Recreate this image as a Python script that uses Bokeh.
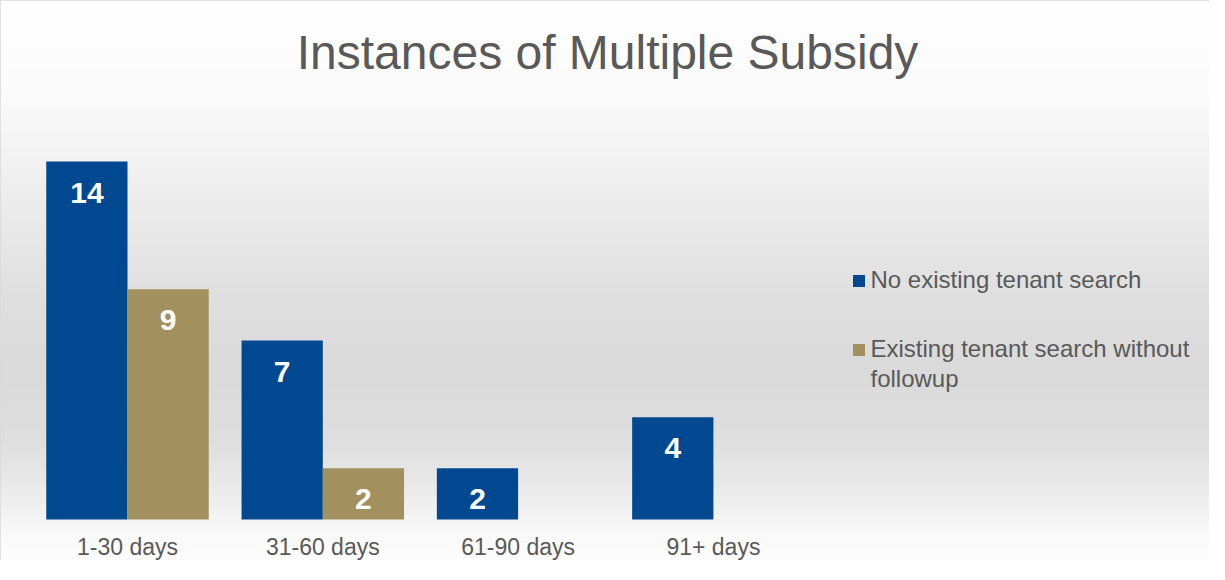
import numpy as np
from bokeh.plotting import figure
from bokeh.models import ColumnDataSource, Range1d, Label, Legend, LegendItem
from bokeh.transform import dodge
from bokeh.core.properties import value
from bokeh.embed import file_html
from bokeh.resources import INLINE

# ---- data ----
categories = ["1-30 days", "31-60 days", "61-90 days", "91+ days"]
series_names = ["No existing tenant search", "Existing tenant search without", "followup"]
no_search = [14, 7, 2, 4]
search_no_followup = [9, 2, None, None]
title_text = "Instances of Multiple Subsidy"

BLUE = "#00488F"
TAN = "#A2915F"
GRAY_TEXT = "#595959"
FONT = "Liberation Sans"

W, H = 1209, 560
PX_X = 195.3   # pixels per category
PX_Y = 25.57   # pixels per unit
x0_page = 135  # page x of first category centre
base_page = 527
x_start = (8 - x0_page) / PX_X
x_end = (8 + W - x0_page) / PX_X
y_end = (base_page - 8) / PX_Y
y_start = -(8 + H - base_page) / PX_Y

p = figure(width=W, height=H, output_backend="svg", toolbar_location=None,
           x_axis_type=None, y_axis_type=None,
           x_range=Range1d(x_start, x_end), y_range=Range1d(y_start, y_end),
           min_border=0)
p.outline_line_color = "#d9d9d9"
p.outline_line_width = 2
p.background_fill_color = "white"
p.border_fill_color = "white"

# ---- vertical background gradient ----
stops_y = [8, 100, 200, 300, 380, 450, 500, 540, 570]
stops_v = [255, 251, 238, 224, 218, 223, 236, 249, 254]
rows = np.arange(H)
page_y = 8 + H - 0.5 - rows
g = np.interp(page_y, stops_y, stops_v).astype(np.uint32)
img = np.empty((H, 2), dtype=np.uint32)
rgba = (255 << 24) | (g << 16) | (g << 8) | g
img[:, 0] = rgba
img[:, 1] = rgba
p.image_rgba(image=[img], x=x_start, y=y_start, dw=x_end - x_start, dh=y_end - y_start)

# ---- bars ----
idx = list(range(len(categories)))
src1 = ColumnDataSource(dict(x=idx, top=no_search, lbl=[str(v) for v in no_search]))
i2 = [i for i, v in zip(idx, search_no_followup) if v is not None]
v2 = [v for v in search_no_followup if v is not None]
src2 = ColumnDataSource(dict(x=i2, top=v2, lbl=[str(v) for v in v2]))

bw = 0.416
off = 0.208
r1 = p.vbar(x=dodge("x", -off, range=p.x_range), top="top", bottom=0, width=bw,
            source=src1, fill_color=BLUE, line_color=None)
r2 = p.vbar(x=dodge("x", off, range=p.x_range), top="top", bottom=0, width=bw,
            source=src2, fill_color=TAN, line_color=None)

for src, o in ((src1, -off), (src2, off)):
    p.text(x=dodge("x", o, range=p.x_range), y="top", text="lbl", source=src,
           text_color="white", text_font=value(FONT), text_font_style="bold",
           text_font_size="30px", text_align="center", text_baseline="middle",
           y_offset=31)

# ---- category labels ----
csrc = ColumnDataSource(dict(x=idx, y=[0] * len(idx), t=categories))
p.text(x="x", y="y", text="t", source=csrc, text_color=GRAY_TEXT,
       text_font=value(FONT), text_font_size="23px", text_align="center",
       text_baseline="middle", y_offset=27)

# ---- title ----
p.add_layout(Label(x=607, y=H - 52, x_units="screen", y_units="screen",
                   text=title_text, text_font=FONT, text_font_size="48px",
                   text_color=GRAY_TEXT, text_align="center", text_baseline="middle"))

# ---- legend ----
legend = Legend(items=[LegendItem(label=series_names[0], renderers=[r1]),
                       LegendItem(label=series_names[1], renderers=[r2])],
                location=(850.5, 197), orientation="vertical",
                glyph_width=15, glyph_height=15, label_standoff=5,
                spacing=41, padding=0, margin=0,
                label_text_font=FONT, label_text_font_size="24px",
                label_text_color=GRAY_TEXT,
                border_line_color=None, background_fill_alpha=0)
p.add_layout(legend)
# wrapped continuation of the second legend label
p.add_layout(Label(x=870, y=H - (386 - 8), x_units="screen", y_units="screen",
                   text=series_names[2], text_font=FONT, text_font_size="24px",
                   text_color=GRAY_TEXT, text_align="left", text_baseline="middle"))

open("out.html", "w").write(file_html(p, INLINE))
